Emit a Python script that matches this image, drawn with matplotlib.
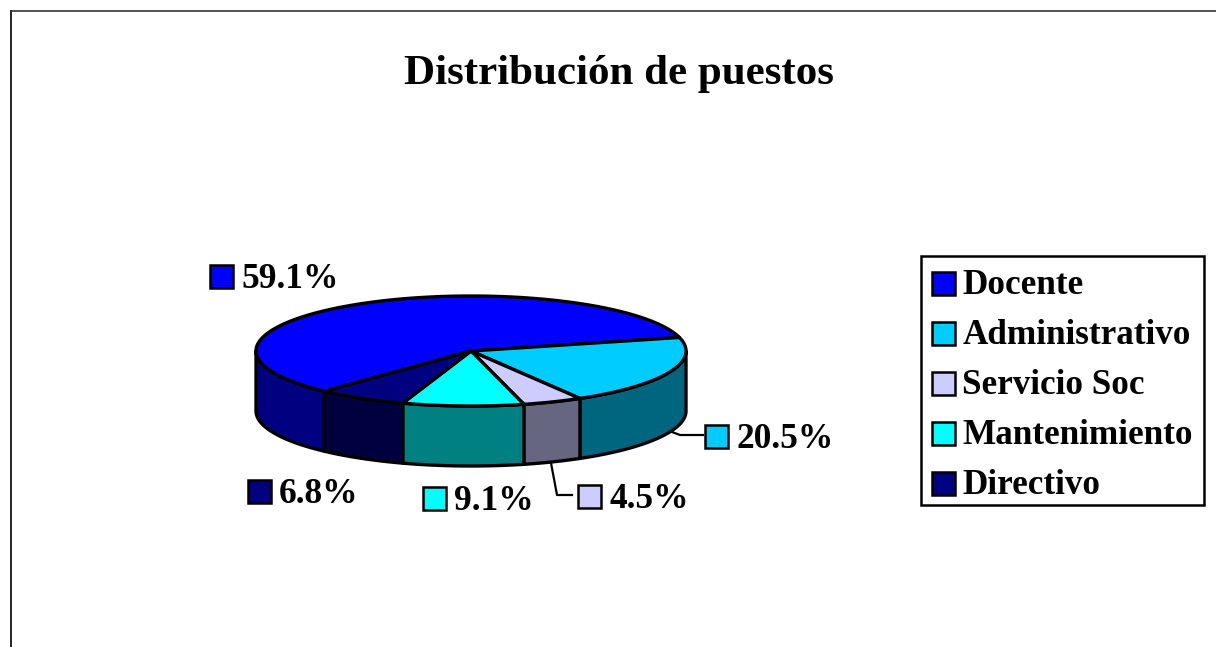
import matplotlib
matplotlib.use("Agg")
import matplotlib.pyplot as plt
from matplotlib.patches import Rectangle
import numpy as np

categorias = ["Docente", "Administrativo", "Servicio Soc", "Mantenimiento", "Directivo"]
valores = [59.1, 20.5, 4.5, 9.1, 6.8]
colores = ["#0000FF", "#00CCFF", "#CCCCFF", "#00FFFF", "#000080"]
lados = ["#000080", "#006680", "#666680", "#008080", "#000040"]
etiquetas = ["59.1%", "20.5%", "4.5%", "9.1%", "6.8%"]

# posiciones en pixeles
cx, cy, rx, ry, prof = 471, 351, 215, 55, 60
inicio = 227  # grados, sentido horario
pos_etq = [(210, 276.5), (705, 436), (578, 496), (423, 498), (248, 491.5)]

plt.rcParams["font.family"] = ["Liberation Serif", "DejaVu Serif"]
plt.rcParams["font.weight"] = "bold"

fig = plt.figure(figsize=(12.16, 6.47), dpi=100)
ax = fig.add_axes([0, 0, 1, 1])
ax.set_xlim(0, 1216)
ax.set_ylim(647, 0)
ax.axis("off")

# marco exterior
ax.plot([11, 11], [647, 11], color="black", lw=1.2)
ax.plot([11, 1216], [11, 11], color="#333333", lw=1.2)

ax.text(618.5, 74, "Distribución de puestos", fontsize=31, ha="center", va="center")


def punto(t):
    return cx + rx * np.cos(t), cy - ry * np.sin(t)


# angulos de cada porcion (t baja = sentido horario en la imagen)
bordes = []
a = np.radians(inicio)
for v in valores:
    b = a - np.radians(v * 3.6)
    bordes.append((a, b))
    a = b

# caras laterales
for (a, b), lado in zip(bordes, lados):
    # solo la parte frontal de la elipse (sin t < 0)
    ts = np.linspace(a, b, 400)
    ts = ts[np.sin(ts) <= 0]
    if len(ts) < 2:
        continue
    x, y = punto(ts)
    px = np.concatenate([x, x[::-1]])
    py = np.concatenate([y, y[::-1] + prof])
    ax.fill(px, py, facecolor=lado, edgecolor="black", lw=2.4, joinstyle="round", zorder=2)

# cara superior
for (a, b), color in zip(bordes, colores):
    ts = np.linspace(a, b, 200)
    x, y = punto(ts)
    px = np.concatenate([[cx], x])
    py = np.concatenate([[cy], y])
    ax.fill(px, py, facecolor=color, edgecolor="black", lw=2.4, joinstyle="round", zorder=3)

# lineas guia
ax.plot([672, 680, 703], [432, 435, 435], color="black", lw=1.6, zorder=1)
ax.plot([551, 557, 572], [463, 495, 495], color="black", lw=1.6, zorder=1)

# etiquetas de datos
for (ex, ey), txt, color in zip(pos_etq, etiquetas, colores):
    ax.add_patch(Rectangle((ex, ey - 11.5), 23, 23, facecolor=color, edgecolor="black", lw=1.8, zorder=4))
    ax.text(ex + 31, ey + 3, txt, fontsize=25.5, ha="left", va="center", zorder=4)

# leyenda
ax.add_patch(Rectangle((921, 256), 283, 249, facecolor="white", edgecolor="black", lw=1.8, zorder=4))
for i, (cat, color) in enumerate(zip(categorias, colores)):
    ly = 283 + i * 50
    ax.add_patch(Rectangle((932, ly - 11.5), 23, 23, facecolor=color, edgecolor="black", lw=1.8, zorder=5))
    ax.text(962.5, ly + 3, cat, fontsize=25.3, ha="left", va="center", zorder=5)

fig.savefig("out.png", dpi=100)
